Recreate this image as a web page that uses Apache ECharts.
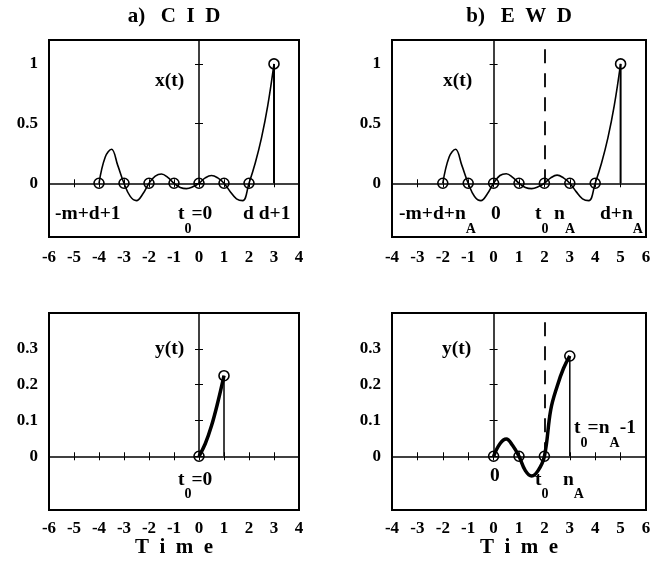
<!DOCTYPE html>
<html>
<head>
<meta charset="utf-8">
<script src="https://cdn.jsdelivr.net/npm/echarts@6/dist/echarts.min.js"></script>
<style>
  body { margin: 0; background: #fff; }
  #main { width: 662px; height: 570px; }
</style>
</head>
<body>
<div id="main"></div>
<script>
// panel a) CID, x(t)
var cidT = [-4, -3.75, -3.5, -3.25, -3, -2.75, -2.5, -2.25, -2, -1.75, -1.5, -1.25, -1, -0.75, -0.5, -0.25, 0, 0.25, 0.5, 0.75, 1, 1.25, 1.5, 1.75, 2, 2.25, 2.5, 2.75, 3];
var cidX = [0, 0.22, 0.285, 0.15, 0, -0.11, -0.145, -0.09, 0, 0.06, 0.078, 0.05, 0, -0.035, -0.045, -0.03, 0, 0.045, 0.065, 0.045, 0, -0.07, -0.13, -0.145, 0, 0.17, 0.38, 0.65, 1];
var cidStemT = [-4, -3, -2, -1, 0, 1, 2, 3];
var cidStemV = [0, 0, 0, 0, 0, 0, 0, 1];
// panel b) EWD, x(t)
var ewdT = [-2, -1.75, -1.5, -1.25, -1, -0.75, -0.5, -0.25, 0, 0.25, 0.5, 0.75, 1, 1.25, 1.5, 1.75, 2, 2.25, 2.5, 2.75, 3, 3.25, 3.5, 3.75, 4, 4.25, 4.5, 4.75, 5];
var ewdX = [0, 0.22, 0.285, 0.15, 0, -0.11, -0.145, -0.09, 0, 0.065, 0.08, 0.05, 0, -0.035, -0.045, -0.03, 0, 0.045, 0.068, 0.045, 0, -0.07, -0.13, -0.145, 0, 0.17, 0.38, 0.65, 1];
var ewdStemT = [-2, -1, 0, 1, 2, 3, 4, 5];
var ewdStemV = [0, 0, 0, 0, 0, 0, 0, 1];
// y(t) curves
var cidYT = [0, 0.25, 0.5, 0.75, 1];
var cidY = [0, 0.035, 0.085, 0.15, 0.225];
var cidYStemT = [0, 1];
var cidYStemV = [0, 0.225];
var ewdYT = [0, 0.25, 0.5, 0.75, 1, 1.25, 1.5, 1.75, 2, 2.25, 2.5, 2.75, 3];
var ewdY = [0, 0.035, 0.048, 0.03, 0, -0.04, -0.055, -0.04, 0, 0.13, 0.195, 0.245, 0.28];
var ewdYStemT = [0, 1, 2, 3];
var ewdYStemV = [0, 0, 0, 0.28];
// axes
var xRanges = [[-6, 4], [-4, 6], [-6, 4], [-4, 6]];
var yRanges = [[-0.45, 1.2], [-0.45, 1.2], [-0.15, 0.4], [-0.15, 0.4]];
var yTicks = [[0, 0.5, 1], [0, 0.5, 1], [0, 0.1, 0.2, 0.3], [0, 0.1, 0.2, 0.3]];
var titles = ['a)   C  I  D', 'b)   E  W  D'];
var xName = 'T  i  m  e';
// text notes: [t, value, rich text]
var notes = [
  [[-1.76, 0.86, '{a|x(t)}'], [-5.76, -0.26, '{a|-m+d+1}'], [-0.84, -0.26, '{a|t}{b|0}{a|=0}'], [1.76, -0.26, '{a|d d+1}']],
  [[-1.99, 0.86, '{a|x(t)}'], [-3.72, -0.26, '{a|-m+d+n}{b|A}'], [-0.1, -0.26, '{a|0}'], [1.63, -0.26, '{a|t}{b|0}'], [2.38, -0.26, '{a|n}{b|A}'], [4.19, -0.26, '{a|d+n}{b|A}']],
  [[-1.76, 0.30, '{a|y(t)}'], [-0.84, -0.065, '{a|t}{b|0}{a|=0}']],
  [[-2.03, 0.30, '{a|y(t)}'], [3.17, 0.079, '{a|t}{b|0}{a|=n}{b|A}{a|-1}'], [-0.14, -0.056, '{a|0}'], [1.63, -0.065, '{a|t}{b|0}'], [2.73, -0.065, '{a|n}{b|A}']]
];

var FONT = 'Liberation Serif';
var grids = [
  {left: 49, top: 40, width: 250, height: 197},
  {left: 392, top: 40, width: 254, height: 197},
  {left: 49, top: 313, width: 250, height: 197},
  {left: 392, top: 313, width: 254, height: 197}
];
grids.forEach(function (g) { g.show = true; g.borderColor = '#000'; g.borderWidth = 2; g.backgroundColor = 'transparent'; });

function zip(a, b) { return a.map(function (v, i) { return [v, b[i]]; }); }

var xAxes = [], yAxes = [], series = [];
var tickStyle = {inside: true, length: 4, lineStyle: {color: '#000', width: 1}};
var labelStyle = {color: '#000', fontFamily: FONT, fontWeight: 'bold', fontSize: 17};

var panels = [
  {t: cidT, v: cidX, st: cidStemT, sv: cidStemV, w: 1.6, dash: false},
  {t: ewdT, v: ewdX, st: ewdStemT, sv: ewdStemV, w: 1.6, dash: true},
  {t: cidYT, v: cidY, st: cidYStemT, sv: cidYStemV, w: 3.5, dash: false},
  {t: ewdYT, v: ewdY, st: ewdYStemT, sv: ewdYStemV, w: 3.5, dash: true}
];

panels.forEach(function (p, i) {
  var xr = xRanges[i], yr = yRanges[i];
  var top = i < 2;
  xAxes.push({gridIndex: i, type: 'value', min: xr[0], max: xr[1], interval: 1, position: 'bottom',
    axisLine: {show: false}, splitLine: {show: false}, axisTick: tickStyle,
    axisLabel: Object.assign({margin: top ? 12 : 10}, labelStyle)});
  xAxes.push({gridIndex: i, type: 'value', min: xr[0], max: xr[1], interval: 1, position: 'top',
    axisLine: {show: false}, splitLine: {show: false}, axisTick: tickStyle, axisLabel: {show: false}});
  yAxes.push({gridIndex: i, type: 'value', min: yr[0], max: yr[1], position: 'left',
    axisLine: {show: false}, splitLine: {show: false},
    axisTick: Object.assign({customValues: yTicks[i]}, tickStyle),
    axisLabel: Object.assign({margin: 11, customValues: yTicks[i]}, labelStyle)});
  yAxes.push({gridIndex: i, type: 'value', min: yr[0], max: yr[1], position: 'right',
    axisLine: {show: false}, splitLine: {show: false},
    axisTick: Object.assign({customValues: yTicks[i]}, tickStyle), axisLabel: {show: false}});

  var xi = 2 * i, yi = 2 * i;
  var lines = [
    [{xAxis: xr[0], yAxis: 0}, {xAxis: xr[1], yAxis: 0}],
    [{coord: [0, 0]}, {coord: [0, yr[1]]}]
  ];
  var ml = {
    silent: true, symbol: ['none', 'none'], label: {show: false},
    lineStyle: {color: '#000', width: 1.5, type: 'solid', opacity: 1},
    data: lines
  };
  if (p.dash) {
    ml.data = lines.concat([[{coord: [2, 0], lineStyle: {type: [14, 10], width: 1.8}}, {coord: [2, yr[1]]}]]);
  }
  // curve
  series.push({type: 'line', xAxisIndex: xi, yAxisIndex: yi, data: zip(p.t, p.v), smooth: 0.4,
    showSymbol: false, lineStyle: {color: '#000', width: p.w}, z: 3, markLine: ml});
  // stems
  p.st.forEach(function (t, k) {
    if (p.sv[k] === 0) return;
    series.push({type: 'line', xAxisIndex: xi, yAxisIndex: yi, data: [[t, 0], [t, p.sv[k]]],
      showSymbol: false, lineStyle: {color: '#000', width: top ? 2 : 1.5}, z: 3});
  });
  // circles
  series.push({type: 'scatter', xAxisIndex: xi, yAxisIndex: yi, data: zip(p.st, p.sv),
    symbol: 'circle', symbolSize: 10,
    itemStyle: {color: 'rgba(0,0,0,0)', borderColor: '#000', borderWidth: 1.6, opacity: 1}, z: 4});
  // notes
  series.push({type: 'scatter', xAxisIndex: xi, yAxisIndex: yi, symbolSize: 0, silent: true, z: 5,
    itemStyle: {opacity: 1},
    data: notes[i].map(function (n) { return {value: [n[0], n[1]], label: {formatter: n[2]}}; }),
    label: {show: true, position: 'right', distance: 0, opacity: 1,
      rich: {
        a: {fontFamily: FONT, fontWeight: 'bold', fontSize: 19.5, color: '#000', lineHeight: 44, verticalAlign: 'middle'},
        b: {fontFamily: FONT, fontWeight: 'bold', fontSize: 14, color: '#000', lineHeight: 28, verticalAlign: 'bottom'}
      }}});
});

var graphic = [
  {type: 'text', x: 174, y: 17, style: {text: titles[0], fill: '#000', font: 'bold 21px "Liberation Serif"', textAlign: 'center', textVerticalAlign: 'middle'}},
  {type: 'text', x: 519, y: 17, style: {text: titles[1], fill: '#000', font: 'bold 21px "Liberation Serif"', textAlign: 'center', textVerticalAlign: 'middle'}},
  {type: 'text', x: 174, y: 548, style: {text: xName, fill: '#000', font: 'bold 21px "Liberation Serif"', textAlign: 'center', textVerticalAlign: 'middle'}},
  {type: 'text', x: 519, y: 548, style: {text: xName, fill: '#000', font: 'bold 21px "Liberation Serif"', textAlign: 'center', textVerticalAlign: 'middle'}}
];

var chart = echarts.init(document.getElementById('main'));
chart.setOption({
  animation: false,
  backgroundColor: '#fff',
  grid: grids,
  xAxis: xAxes,
  yAxis: yAxes,
  series: series,
  graphic: graphic
});
</script>
</body>
</html>
